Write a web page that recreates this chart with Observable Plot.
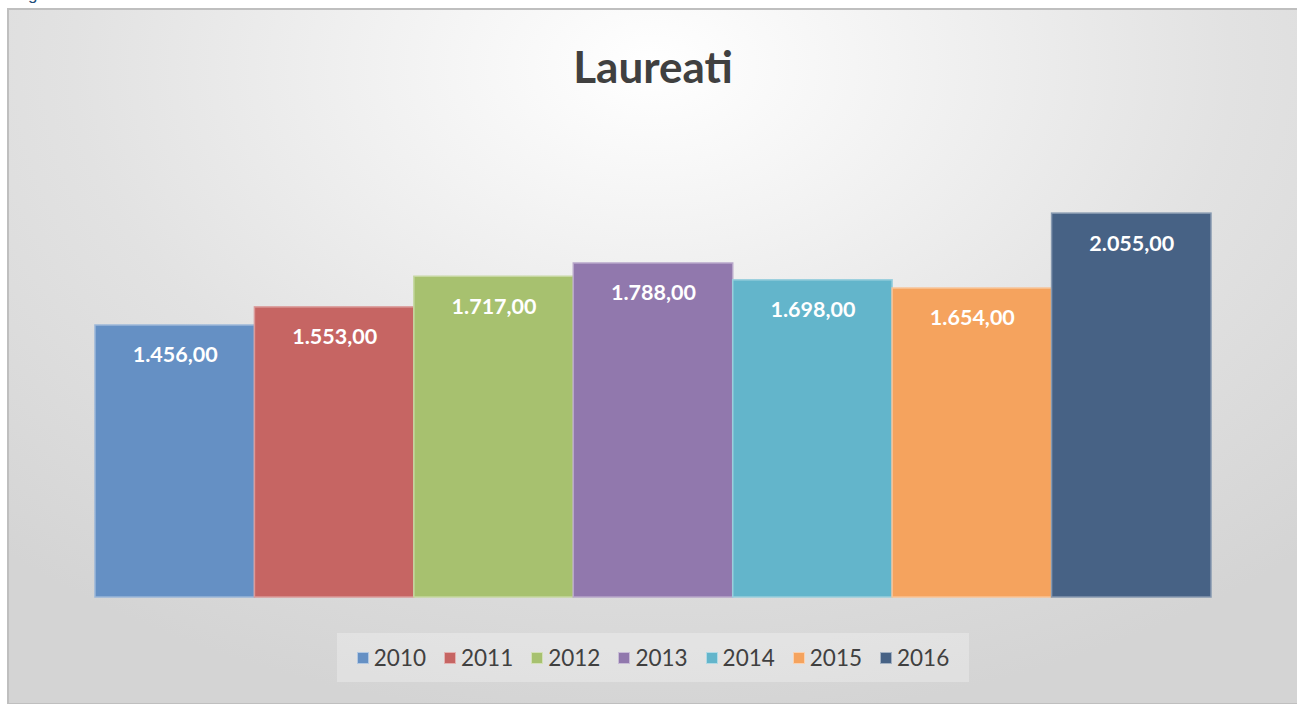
<!DOCTYPE html>
<html>
<head>
<meta charset="utf-8">
<script src="https://cdn.jsdelivr.net/npm/d3@7"></script>
<script src="https://cdn.jsdelivr.net/npm/@observablehq/plot@0.6"></script>
<style>
  html, body { margin: 0; padding: 0; width: 1297px; height: 704px; overflow: hidden; background: #fff; font-family: Lato, "Open Sans", sans-serif; }
  #cap { position: absolute; left: 28px; top: -15px; color: #1f4e79; font-size: 17px; font-family: "Liberation Sans", sans-serif; }
  #frame { position: absolute; left: 7px; top: 8px; width: 1288px; height: 693px;
    border: 2px solid #bfbfbf; border-right: none;
    background: radial-gradient(ellipse 75% 95% at 50% 8%, #ffffff 0%, #f3f3f3 25%, #e2e2e2 60%, #d4d4d4 100%); }
  #title { height: 100px; line-height: 112px; text-align: center; font-weight: 700; font-size: 44px; color: #404040; }
  #legend { margin: 13px auto 0 auto; width: 632px; height: 49px; background: rgba(255,255,255,0.28);
    display: flex; align-items: center; justify-content: center; gap: 18px; font-size: 22.5px; color: #404040; }
  .item { display: flex; align-items: center; gap: 5px; }
  .sw { width: 12px; height: 12px; box-sizing: border-box; border: 1px solid rgba(255,255,255,0.5); }
</style>
</head>
<body>
<div id="cap">g</div>
<div id="frame">
  <div id="title">Laureati</div>
  <div id="chart"></div>
  <div id="legend"></div>
</div>
<script>
const years = ["2010", "2011", "2012", "2013", "2014", "2015", "2016"];
const laureati = [1456, 1553, 1717, 1788, 1698, 1654, 2055];
const colors = ["#6590c4", "#c66563", "#a7c16f", "#9178ad", "#63b5cb", "#f5a35e", "#476285"];

const data = years.map((y, i) => ({ year: y, value: laureati[i] }));
const itLocale = d3.formatLocale({ decimal: ",", thousands: ".", grouping: [3], currency: ["€", ""] });
const fmt = itLocale.format(",.2f");
const strokeOf = c => d3.interpolateRgb(c, "#ffffff")(0.35);

const plot = Plot.plot({
  width: 1288,
  height: 510,
  marginLeft: 86,
  marginRight: 86,
  marginTop: 20,
  marginBottom: 23,
  style: { background: "transparent", overflow: "visible" },
  x: { domain: years, padding: 0, round: false, axis: null },
  y: { domain: [0, 2500], axis: null },
  color: { domain: years, range: colors },
  marks: [
    Plot.barY(data, { x: "year", y: "value", fill: "year", inset: 0,
      stroke: d => strokeOf(colors[years.indexOf(d.year)]), strokeWidth: 1.5 }),
    Plot.text(data, { x: "year", y: "value", text: d => fmt(d.value), dy: 30,
      fill: "white", fontSize: 21.5, fontWeight: 700, fontFamily: "Lato, sans-serif" })
  ]
});
document.getElementById("chart").appendChild(plot);

const legend = document.getElementById("legend");
years.forEach((y, i) => {
  const it = document.createElement("div");
  it.className = "item";
  const sw = document.createElement("span");
  sw.className = "sw";
  sw.style.background = colors[i];
  const t = document.createElement("span");
  t.textContent = y;
  it.appendChild(sw); it.appendChild(t);
  legend.appendChild(it);
});
</script>
</body>
</html>
